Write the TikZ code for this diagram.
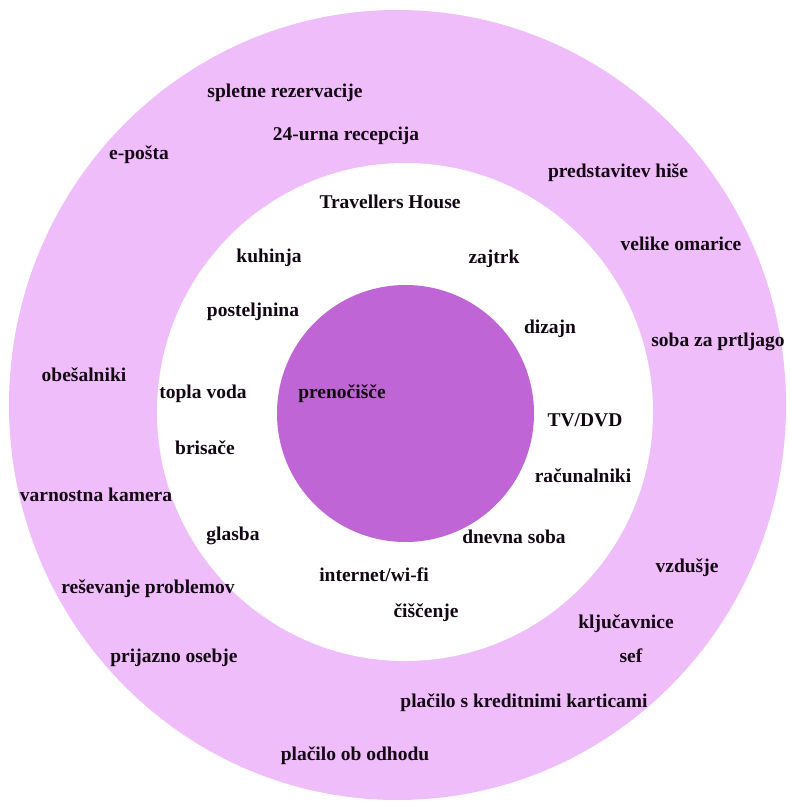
\documentclass[tikz,border=0pt]{standalone}
\usepackage{fontspec}
\setmainfont{Liberation Serif}
\definecolor{ringpink}{HTML}{EFBDF9}
\definecolor{corepurple}{HTML}{C065D5}
\definecolor{inkdark}{HTML}{140714}

\begin{document}
\begin{tikzpicture}[x=1pt,y=-1pt,
  lbl/.style={text=inkdark,font=\bfseries\fontsize{19.5}{22}\selectfont,inner sep=0pt,text height=13pt,text depth=4pt}]
\useasboundingbox (0,0) rectangle (789,805);
\fill[ringpink] (397.5,405) ellipse [x radius=388.5pt, y radius=395pt];
\fill[white] (405,412) ellipse [x radius=248pt, y radius=249pt];
\fill[corepurple] (405.5,413.5) circle (128.5pt);

\node[lbl] (spletne) at (285,93) {spletne rezervacije};
\node[lbl] (recepcija) at (346,136) {24-urna recepcija};
\node[lbl] (eposta) at (139,155) {e-pošta};
\node[lbl] (predstavitev) at (618,173) {predstavitev hiše};
\node[lbl] (travellers) at (390,204) {Travellers House};
\node[lbl] (omarice) at (681,246) {velike omarice};
\node[lbl] (kuhinja) at (269,258) {kuhinja};
\node[lbl] (zajtrk) at (494,259) {zajtrk};
\node[lbl] (posteljnina) at (253,312) {posteljnina};
\node[lbl] (dizajn) at (550,329) {dizajn};
\node[lbl] (prtljaga) at (718,342) {soba za prtljago};
\node[lbl] (obesalniki) at (84,377) {obešalniki};
\node[lbl] (voda) at (203,394) {topla voda};
\node[lbl] (prenocisce) at (342,394) {prenočišče};
\node[lbl] (tvdvd) at (585,422) {TV/DVD};
\node[lbl] (brisace) at (205,450) {brisače};
\node[lbl] (racunalniki) at (583,478) {računalniki};
\node[lbl] (kamera) at (96,497) {varnostna kamera};
\node[lbl] (glasba) at (233,536) {glasba};
\node[lbl] (dnevna) at (514,539) {dnevna soba};
\node[lbl] (vzdusje) at (687,568) {vzdušje};
\node[lbl] (internet) at (374,577) {internet/wi-fi};
\node[lbl] (problemi) at (148,589) {reševanje problemov};
\node[lbl] (ciscenje) at (426,613) {čiščenje};
\node[lbl] (kljucavnice) at (626,624) {ključavnice};
\node[lbl] (osebje) at (174,658) {prijazno osebje};
\node[lbl] (sef) at (631,658) {sef};
\node[lbl] (kartice) at (524,703) {plačilo s kreditnimi karticami};
\node[lbl] (odhod) at (355,756) {plačilo ob odhodu};

\end{tikzpicture}
\end{document}
